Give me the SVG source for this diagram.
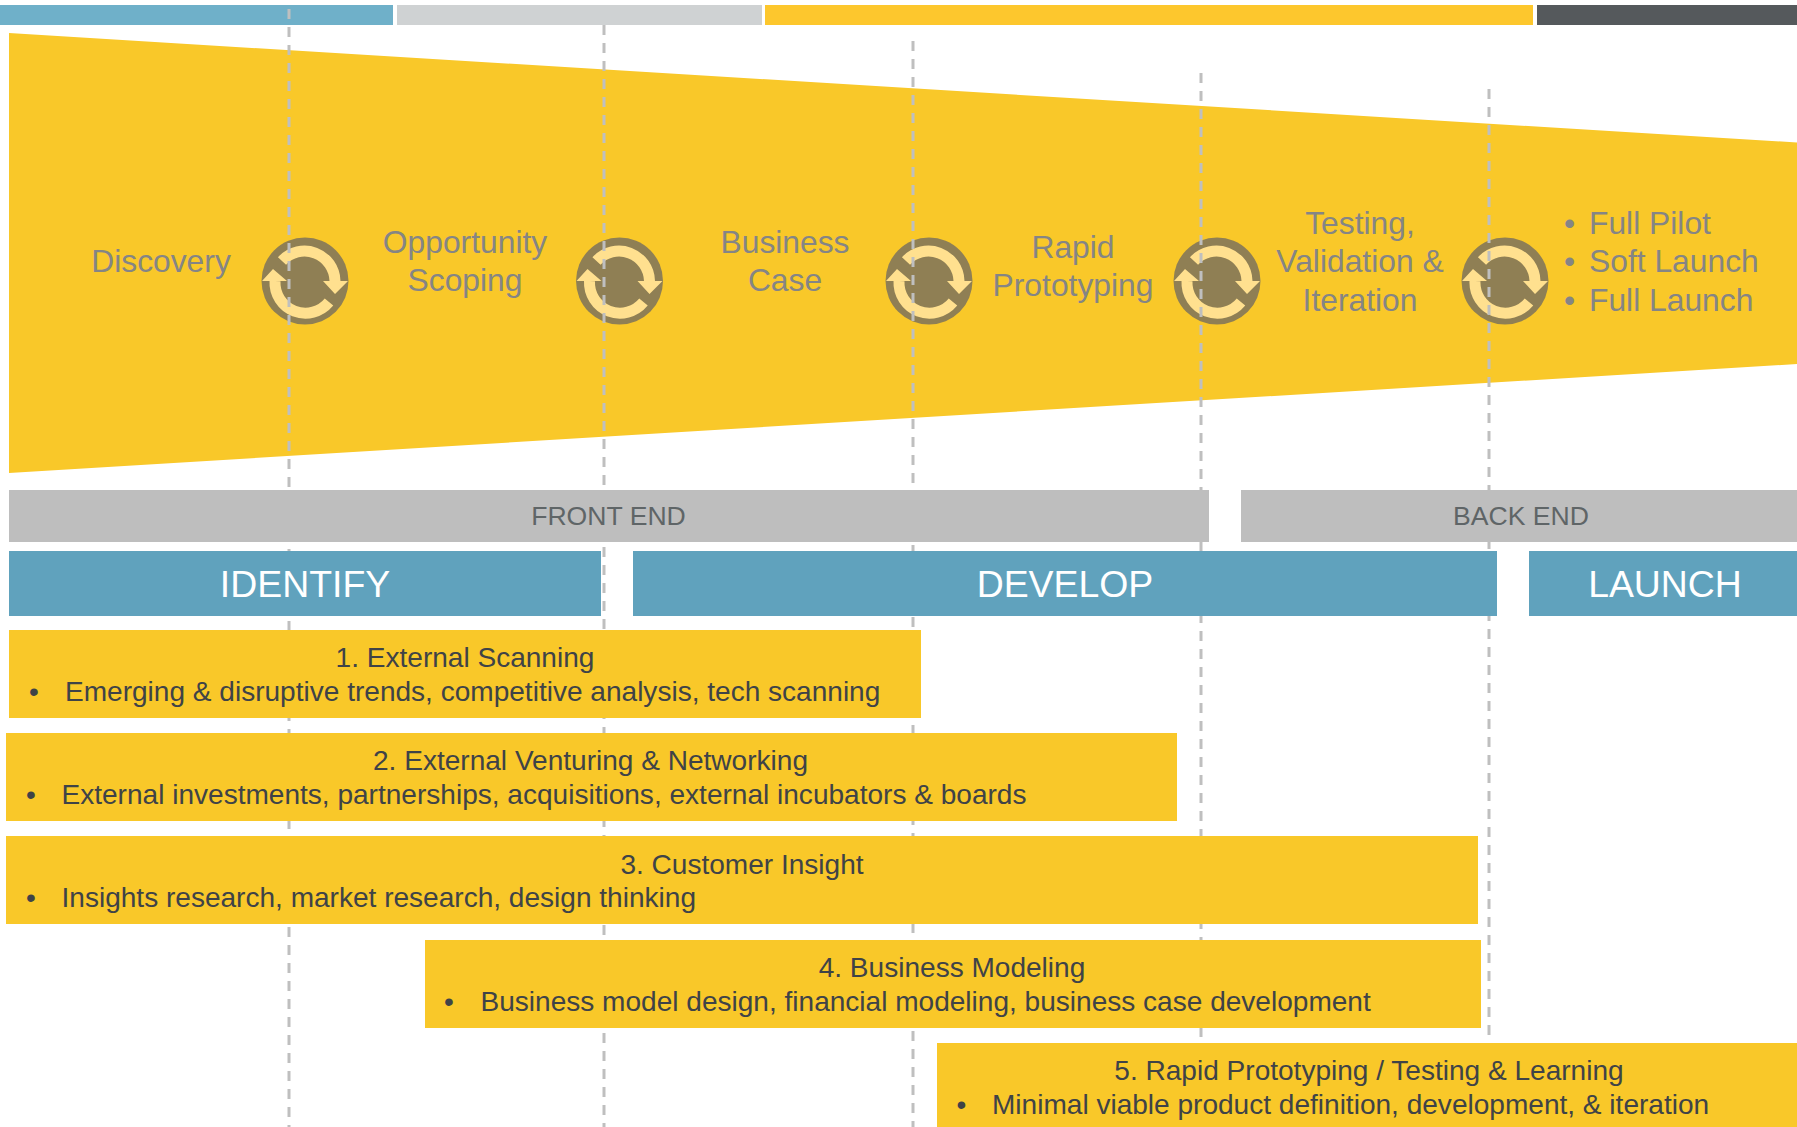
<svg xmlns="http://www.w3.org/2000/svg" width="1797" height="1127" viewBox="0 0 1797 1127">
<style>
text{font-family:"Liberation Sans",Arial,sans-serif}
.y{fill:#f9c829}.b{fill:#60a2bd}.g{fill:#bebebe}
.d{fill:none;stroke:#bfbfbf;stroke-width:3;stroke-dasharray:10 8}
.p{font-size:31.8px;fill:#858585;text-anchor:middle}
.l{font-size:31.8px;fill:#858585}
.s{font-size:26.6px;fill:#5f6567;text-anchor:middle}
.h{font-size:37.4px;fill:#fff;text-anchor:middle}
.t{font-size:28.05px;fill:#3f4347;text-anchor:middle}
.u{font-size:28.05px;fill:#3f4347}
</style>
<defs>
<g id="cyc">
<circle r="43.5" fill="#8f7f54"/>
<path d="M-23-20A30.5 30.5 0 0 1 30 0" fill="none" stroke="#ffe08f" stroke-width="11"/>
<path d="M24 21A30.5 30.5 0 0 1 -30 0" fill="none" stroke="#ffe08f" stroke-width="11"/>
<path d="M18 0H43L30 13ZM-43 0H-18L-32-12Z" fill="#ffe08f"/>
</g>
</defs>
<g id="top-bars">
<rect x="0" y="5" width="393" height="20" fill="#6fb0c9"/>
<rect x="397" y="5" width="365" height="20" fill="#cfd2d3"/>
<rect x="765" y="5" width="768" height="20" fill="#fdc72d"/>
<rect x="1537" y="5" width="260" height="20" fill="#55595c"/>
</g>
<polygon id="funnel" class="y" points="9,33 1797,142.5 1797,364 9,473"/>
<g id="cycles">
<use href="#cyc" x="305" y="281"/><use href="#cyc" x="619.5" y="281"/><use href="#cyc" x="929" y="281"/><use href="#cyc" x="1217" y="281"/><use href="#cyc" x="1505" y="281"/>
</g>
<g id="connectors">
<path class="d" d="M289 9V1127"/><path class="d" d="M604 25V1127"/><path class="d" d="M913 41V1127"/><path class="d" d="M1201 73V1127"/><path class="d" d="M1489 89V1127"/>
</g>
<g id="stage-labels">
<text class="p" x="161" y="272">Discovery</text>
<text class="p" x="465" y="253">Opportunity</text><text class="p" x="465" y="291">Scoping</text>
<text class="p" x="785" y="253">Business</text><text class="p" x="785" y="291">Case</text>
<text class="p" x="1073" y="258">Rapid</text><text class="p" x="1073" y="296">Prototyping</text>
<text class="p" x="1360" y="234">Testing,</text><text class="p" x="1360" y="272">Validation &amp;</text><text class="p" x="1360" y="311">Iteration</text>
<text class="l" x="1564" y="234">•</text><text class="l" x="1589" y="234">Full Pilot</text>
<text class="l" x="1564" y="272">•</text><text class="l" x="1589" y="272">Soft Launch</text>
<text class="l" x="1564" y="311">•</text><text class="l" x="1589" y="311">Full Launch</text>
</g>
<g id="front-end"><rect class="g" x="9" y="490" width="1200" height="52"/><text class="s" x="608.5" y="525">FRONT END</text></g>
<g id="back-end"><rect class="g" x="1241" y="490" width="556" height="52"/><text class="s" x="1521" y="525">BACK END</text></g>
<g id="identify"><rect class="b" x="9" y="551" width="592" height="65"/><text class="h" x="305" y="597">IDENTIFY</text></g>
<g id="develop"><rect class="b" x="633" y="551" width="864" height="65"/><text class="h" x="1065" y="597">DEVELOP</text></g>
<g id="launch"><rect class="b" x="1529" y="551" width="268" height="65"/><text class="h" x="1665" y="597">LAUNCH</text></g>
<g id="box1"><rect class="y" x="9" y="630" width="912" height="88"/><text class="t" x="465" y="667">1. External Scanning</text><text class="u" x="29" y="701">•</text><text class="u" x="65" y="701">Emerging &amp; disruptive trends, competitive analysis, tech scanning</text></g>
<g id="box2"><rect class="y" x="6" y="733" width="1171" height="88"/><text class="t" x="590.5" y="770">2. External Venturing &amp; Networking</text><text class="u" x="26" y="804">•</text><text class="u" x="61.5" y="804">External investments, partnerships, acquisitions, external incubators &amp; boards</text></g>
<g id="box3"><rect class="y" x="6" y="836" width="1472" height="88"/><text class="t" x="742" y="874">3. Customer Insight</text><text class="u" x="26" y="907">•</text><text class="u" x="61.5" y="907">Insights research, market research, design thinking</text></g>
<g id="box4"><rect class="y" x="425" y="940" width="1056" height="88"/><text class="t" x="952" y="977">4. Business Modeling</text><text class="u" x="444" y="1011">•</text><text class="u" x="480.5" y="1011">Business model design, financial modeling, business case development</text></g>
<g id="box5"><rect class="y" x="937" y="1043" width="860" height="84"/><text class="t" x="1369" y="1080">5. Rapid Prototyping / Testing &amp; Learning</text><text class="u" x="956.5" y="1113.5">•</text><text class="u" x="992" y="1113.5">Minimal viable product definition, development, &amp; iteration</text></g>
</svg>
